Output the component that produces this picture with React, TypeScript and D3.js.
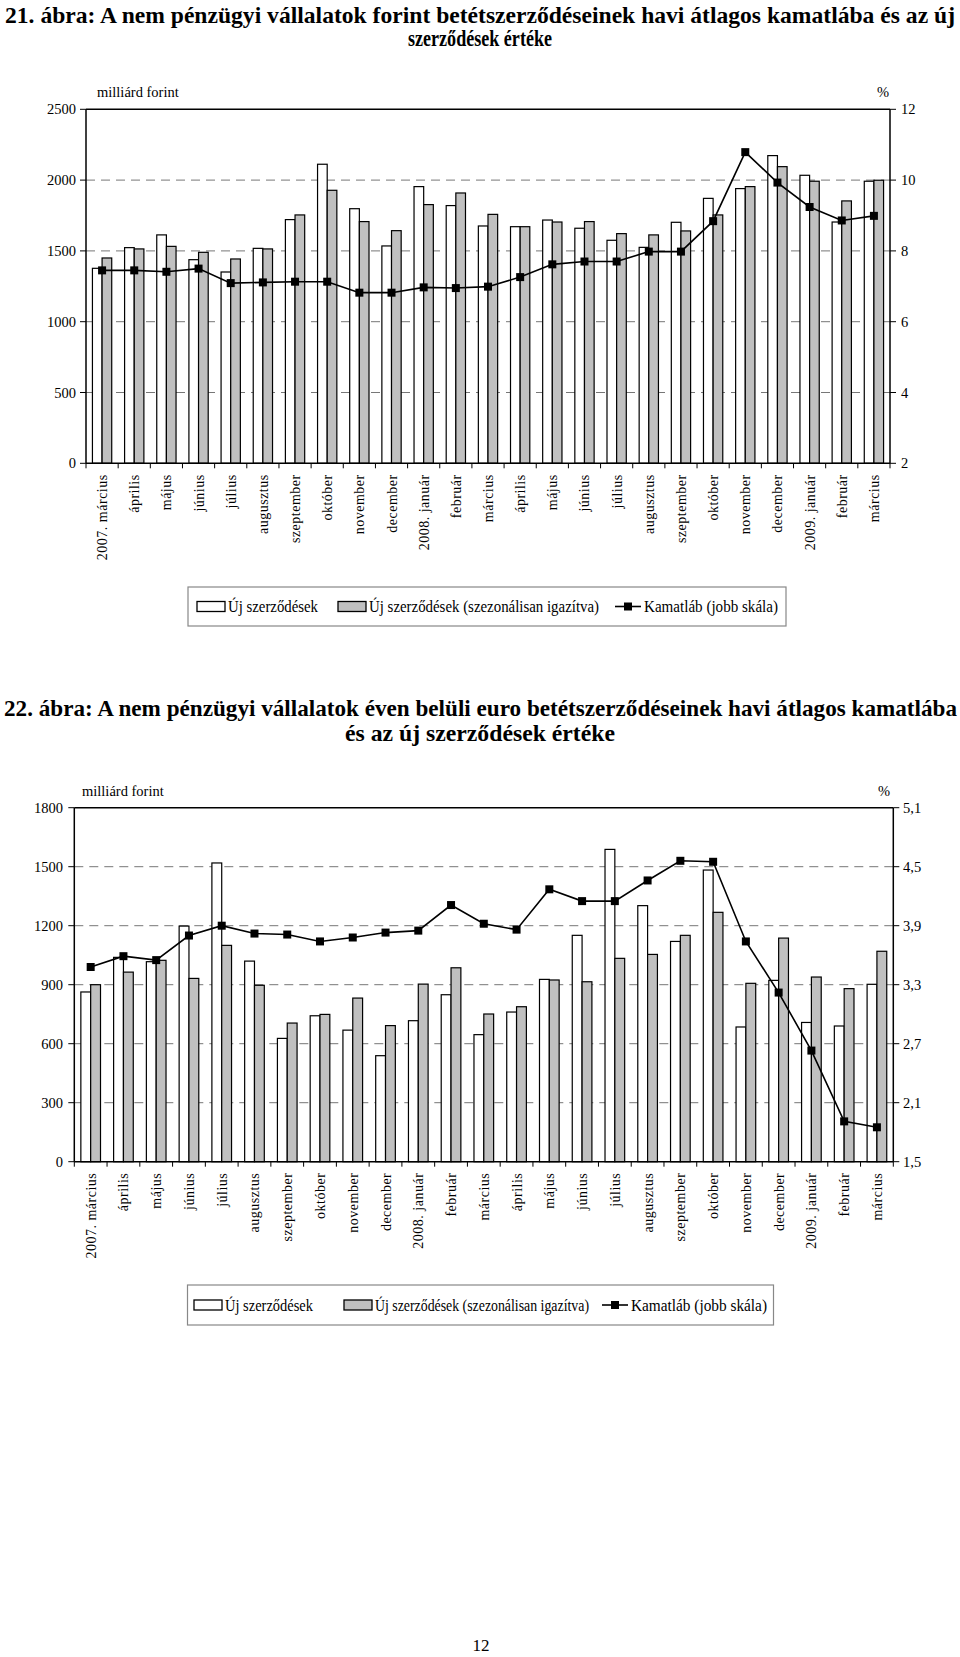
import React from "react";
import * as d3 from "d3";

const months = ["2007. március","április","május","június","július","augusztus","szeptember","október","november","december","2008. január","február","március","április","május","június","július","augusztus","szeptember","október","november","december","2009. január","február","március"];

const new1 = [1377,1523,1613,1438,1351,1518,1721,2112,1798,1535,1954,1820,1676,1671,1718,1660,1575,1525,1702,1871,1940,2173,2034,1704,1992];
const adj1 = [1450,1514,1532,1490,1443,1514,1754,1928,1707,1643,1827,1909,1758,1671,1704,1707,1622,1613,1641,1754,1954,2095,1992,1853,1999];
const rate1 = [7.45,7.45,7.41,7.50,7.09,7.11,7.13,7.13,6.82,6.82,6.97,6.95,6.99,7.26,7.62,7.70,7.70,7.98,7.98,8.84,10.79,9.93,9.24,8.86,8.99];
const leftTicks1 = [0,500,1000,1500,2000,2500];
const rightTicks1 = [2,4,6,8,10,12];
const rightLabels1 = ["2","4","6","8","10","12"];

const new2 = [863,1039,1017,1198,1519,1020,627,742,669,539,717,849,646,761,927,1151,1588,1302,1120,1483,685,922,708,690,902];
const adj2 = [900,964,1024,932,1100,897,705,749,832,692,903,986,751,788,924,915,1034,1054,1151,1268,907,1137,939,880,1070];
const rate2 = [3.48,3.59,3.55,3.80,3.90,3.82,3.81,3.74,3.78,3.83,3.85,4.11,3.92,3.86,4.27,4.15,4.15,4.36,4.56,4.55,3.74,3.22,2.63,1.91,1.85];
const leftTicks2 = [0,300,600,900,1200,1500,1800];
const rightTicks2 = [1.5,2.1,2.7,3.3,3.9,4.5,5.1];
const rightLabels2 = ["1,5","2,1","2,7","3,3","3,9","4,5","5,1"];

const title1 = ["21. ábra: A nem pénzügyi vállalatok forint betétszerződéseinek havi átlagos kamatlába és az új", "szerződések értéke"];
const title2 = ["22. ábra: A nem pénzügyi vállalatok éven belüli euro betétszerződéseinek havi átlagos kamatlába", "és az új szerződések értéke"];
const legendLabels = ["Új szerződések", "Új szerződések (szezonálisan igazítva)", "Kamatláb (jobb skála)"];
const unitLeft = "milliárd forint";
const unitRight = "%";

const FONT = "'Liberation Serif', 'Times New Roman', serif";
const GRAY = "#c0c0c0";

type ChartProps = {
  x0: number; x1: number; yTop: number; yBot: number;
  leftMax: number; leftTicks: number[];
  rightMin: number; rightMax: number; rightTicks: number[]; rightLabels: string[];
  nv: number[]; av: number[]; rv: number[];
  leftLabelX: number; rightLabelX: number; unitY: number; unitLeftX: number; unitRightX: number;
  legend: { x: number; y: number; w: number; h: number; items: number[]; widths: number[] };
};

function Chart(p: ChartProps) {
  const xb = d3.scaleBand<string>().domain(months.map((m, i) => i + "")).range([p.x0, p.x1]).paddingInner(0.4).paddingOuter(0.2);
  const xs = d3.scaleBand<string>().domain(["n", "a"]).range([0, xb.bandwidth()]);
  const yl = d3.scaleLinear().domain([0, p.leftMax]).range([p.yBot, p.yTop]);
  const yr = d3.scaleLinear().domain([p.rightMin, p.rightMax]).range([p.yBot, p.yTop]);
  const step = (p.x1 - p.x0) / months.length;
  const cx = (i: number) => (xb(i + "") as number) + xb.bandwidth() / 2;
  const line = d3.line<number>().x((d, i) => cx(i)).y(d => yr(d));
  const lg = p.legend;
  const ly = lg.y + lg.h / 2;
  return (
    <g>
      {p.leftTicks.slice(1, -1).map(t => (
        <line key={"g" + t} x1={p.x0} x2={p.x1} y1={yl(t)} y2={yl(t)} stroke="#777" strokeWidth={1} strokeDasharray="9,6" />
      ))}
      {p.nv.map((v, i) => (
        <rect key={"n" + i} x={(xb(i + "") as number) + (xs("n") as number)} y={yl(v)} width={xs.bandwidth()} height={p.yBot - yl(v)} fill="#fff" stroke="#000" strokeWidth={1.2} />
      ))}
      {p.av.map((v, i) => (
        <rect key={"a" + i} x={(xb(i + "") as number) + (xs("a") as number)} y={yl(v)} width={xs.bandwidth()} height={p.yBot - yl(v)} fill={GRAY} stroke="#000" strokeWidth={1.2} />
      ))}
      <line x1={p.x0} x2={p.x1} y1={p.yTop} y2={p.yTop} stroke="#000" strokeWidth={1.5} />
      <line x1={p.x0} x2={p.x0} y1={p.yTop} y2={p.yBot} stroke="#000" strokeWidth={1.5} />
      <line x1={p.x1} x2={p.x1} y1={p.yTop} y2={p.yBot} stroke="#000" strokeWidth={1.5} />
      <line x1={p.x0} x2={p.x1} y1={p.yBot} y2={p.yBot} stroke="#000" strokeWidth={1.5} />
      <path d={line(p.rv) || ""} fill="none" stroke="#000" strokeWidth={1.6} />
      {p.rv.map((v, i) => (
        <rect key={"m" + i} x={cx(i) - 4} y={yr(v) - 4} width={8} height={8} fill="#000" />
      ))}
      {p.leftTicks.map(t => (
        <g key={"lt" + t}>
          <line x1={p.x0 - 6} x2={p.x0} y1={yl(t)} y2={yl(t)} stroke="#000" strokeWidth={1} />
          <text x={p.leftLabelX} y={yl(t)} dy="0.35em" textAnchor="end" fontSize={14.5} fontFamily={FONT}>{t}</text>
        </g>
      ))}
      {p.rightTicks.map((t, i) => (
        <g key={"rt" + i}>
          <line x1={p.x1} x2={p.x1 + 6} y1={yr(t)} y2={yr(t)} stroke="#000" strokeWidth={1} />
          <text x={p.rightLabelX} y={yr(t)} dy="0.35em" textAnchor="start" fontSize={14.5} fontFamily={FONT}>{p.rightLabels[i]}</text>
        </g>
      ))}
      {d3.range(months.length + 1).map(i => (
        <line key={"ct" + i} x1={p.x0 + i * step} x2={p.x0 + i * step} y1={p.yBot} y2={p.yBot + 5} stroke="#000" strokeWidth={1} />
      ))}
      {months.map((m, i) => (
        <text key={"cl" + i} transform={`translate(${cx(i) + 5},${p.yBot + 11}) rotate(-90)`} textAnchor="end" fontSize={14} letterSpacing={0.5} fontFamily={FONT}>{m}</text>
      ))}
      <text x={p.unitLeftX} y={p.unitY} fontSize={14.5} fontFamily={FONT}>{unitLeft}</text>
      <text x={p.unitRightX} y={p.unitY} fontSize={14.5} fontFamily={FONT}>{unitRight}</text>
      <rect x={lg.x} y={lg.y} width={lg.w} height={lg.h} fill="#fff" stroke="#888" strokeWidth={1.2} />
      <rect x={lg.items[0]} y={ly - 5} width={28} height={10} fill="#fff" stroke="#000" strokeWidth={1.3} />
      <text x={lg.items[0] + 31} y={ly} dy="0.35em" fontSize={16} fontFamily={FONT} textLength={lg.widths[0]} lengthAdjust="spacingAndGlyphs">{legendLabels[0]}</text>
      <rect x={lg.items[1]} y={ly - 5} width={28} height={10} fill={GRAY} stroke="#000" strokeWidth={1.3} />
      <text x={lg.items[1] + 31} y={ly} dy="0.35em" fontSize={16} fontFamily={FONT} textLength={lg.widths[1]} lengthAdjust="spacingAndGlyphs">{legendLabels[1]}</text>
      <line x1={lg.items[2]} x2={lg.items[2] + 26} y1={ly} y2={ly} stroke="#000" strokeWidth={1.6} />
      <rect x={lg.items[2] + 9} y={ly - 4} width={8} height={8} fill="#000" />
      <text x={lg.items[2] + 29} y={ly} dy="0.35em" fontSize={16} fontFamily={FONT} textLength={lg.widths[2]} lengthAdjust="spacingAndGlyphs">{legendLabels[2]}</text>
    </g>
  );
}

export default function App() {
  const tf = { fontSize: 23, fontWeight: "bold" as const, fontFamily: FONT };
  return (
    <svg width={960} height={1657} style={{ position: "absolute", left: 0, top: 0, display: "block", background: "#fff" }}>
      <rect x={0} y={0} width={960} height={1657} fill="#fff" />
      <text x={5} y={23} {...tf} textLength={950} lengthAdjust="spacingAndGlyphs">{title1[0]}</text>
      <text x={480} y={46} {...tf} textAnchor="middle" textLength={144} lengthAdjust="spacingAndGlyphs">{title1[1]}</text>
      <Chart x0={86} x1={890} yTop={109.3} yBot={463.3} leftMax={2500} leftTicks={leftTicks1}
        rightMin={2} rightMax={12} rightTicks={rightTicks1} rightLabels={rightLabels1}
        nv={new1} av={adj1} rv={rate1} leftLabelX={76} rightLabelX={901} unitY={97} unitLeftX={97} unitRightX={877}
        legend={{ x: 188, y: 587, w: 598, h: 39, items: [197, 338, 615], widths: [90, 230, 134] }} />
      <text x={4} y={716} {...tf} textLength={953} lengthAdjust="spacingAndGlyphs">{title2[0]}</text>
      <text x={480} y={741} {...tf} textAnchor="middle" textLength={270} lengthAdjust="spacingAndGlyphs">{title2[1]}</text>
      <Chart x0={74.3} x1={893.3} yTop={807.7} yBot={1161.7} leftMax={1800} leftTicks={leftTicks2}
        rightMin={1.5} rightMax={5.1} rightTicks={rightTicks2} rightLabels={rightLabels2}
        nv={new2} av={adj2} rv={rate2} leftLabelX={63} rightLabelX={903} unitY={796} unitLeftX={82} unitRightX={878}
        legend={{ x: 187.5, y: 1285, w: 586, h: 40, items: [194, 344, 602], widths: [88, 214, 136] }} />
      <text x={481} y={1651} fontSize={17} fontFamily={FONT} textAnchor="middle">12</text>
    </svg>
  );
}
